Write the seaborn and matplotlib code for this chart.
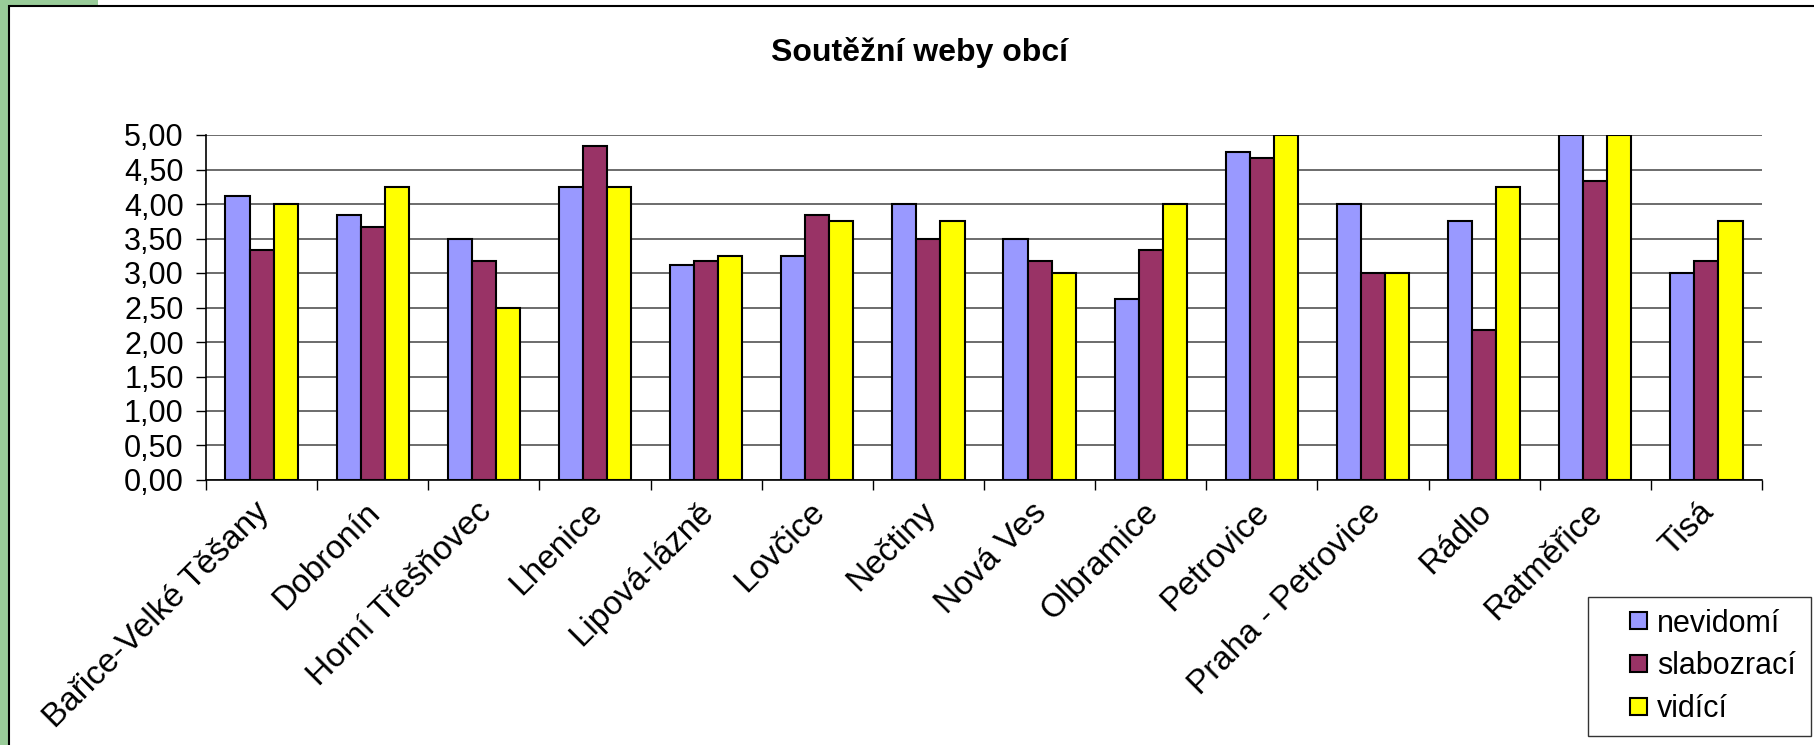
import numpy as np
import pandas as pd
import matplotlib
matplotlib.use("Agg")
import matplotlib.pyplot as plt
import matplotlib.transforms as mtransforms
import seaborn as sns
from matplotlib.patches import Rectangle
from matplotlib.legend_handler import HandlerPatch

# ---- data ----
categories = ["Bařice-Velké Těšany", "Dobronín", "Horní Třešňovec", "Lhenice",
              "Lipová-lázně", "Lovčice", "Nečtiny", "Nová Ves", "Olbramice",
              "Petrovice", "Praha - Petrovice", "Rádlo", "Ratměřice", "Tisá"]
nevidomi = [4.11, 3.84, 3.50, 4.25, 3.12, 3.25, 4.00, 3.50, 2.63, 4.76, 4.00, 3.75, 5.00, 3.00]
slabozraci = [3.33, 3.66, 3.17, 4.84, 3.17, 3.84, 3.50, 3.17, 3.33, 4.67, 3.00, 2.17, 4.33, 3.17]
vidici = [4.00, 4.25, 2.50, 4.25, 3.25, 3.75, 3.75, 3.00, 4.00, 5.00, 3.00, 4.25, 5.00, 3.75]
series_names = ["nevidomí", "slabozrací", "vidící"]
ytick_values = [0.0, 0.5, 1.0, 1.5, 2.0, 2.5, 3.0, 3.5, 4.0, 4.5, 5.0]
ytick_labels = ["0,00", "0,50", "1,00", "1,50", "2,00", "2,50", "3,00", "3,50", "4,00", "4,50", "5,00"]
title = "Soutěžní weby obcí"

colors = ["#9999FF", "#993366", "#FFFF00"]

sns.set_theme(style="white")
plt.rcParams["font.family"] = ["Liberation Sans", "DejaVu Sans"]
plt.rcParams["text.color"] = "black"
plt.rcParams["xtick.color"] = "black"
plt.rcParams["ytick.color"] = "black"
plt.rcParams["axes.labelcolor"] = "black"

df = pd.DataFrame({"obec": categories, series_names[0]: nevidomi,
                   series_names[1]: slabozraci, series_names[2]: vidici})
long = df.melt(id_vars="obec", var_name="skupina", value_name="hodnota")

W, H = 1814, 745
fig = plt.figure(figsize=(W / 100, H / 100), dpi=100)
fig.patch.set_facecolor("white")

# decorative frame and green strips
fig.patches.append(Rectangle((0, 0), 8 / W, 1, transform=fig.transFigure,
                             facecolor="#99CC99", edgecolor="none", zorder=0))
fig.patches.append(Rectangle((0, 1 - 6 / H), 98 / W, 6 / H, transform=fig.transFigure,
                             facecolor="#99CC99", edgecolor="none", zorder=0))
fig.patches.append(Rectangle((8.5 / W, -0.1), 1.2, 1.1 - 6.5 / H, transform=fig.transFigure,
                             facecolor="none", edgecolor="black", linewidth=1.5, zorder=1))

ax = fig.add_axes([206 / W, 1 - 480 / H, (1762 - 206) / W, (480 - 135) / H])
sns.barplot(data=long, x="obec", y="hodnota", hue="skupina", palette=colors,
            width=0.65, edgecolor="black", linewidth=1.5, saturation=1, gap=0,
            ax=ax, zorder=3)

ax.set_xlim(-0.5, len(categories) - 0.5)
ax.set_ylim(0, 5)
ax.set_xlabel("")
ax.set_ylabel("")
ax.patch.set_alpha(0)

FS = 22
ax.set_yticks(ytick_values)
ax.set_yticklabels(ytick_labels, fontsize=FS)
ax.tick_params(axis="y", which="major", left=True, length=7, width=1, color="black", pad=9)

ax.set_xticks(range(len(categories)))
ax.set_xticklabels(categories, fontsize=24, rotation=45, ha="right", rotation_mode="anchor")
ax.tick_params(axis="x", which="major", length=0, pad=12)
shift = mtransforms.ScaledTranslation(-6 / 72, 0, fig.dpi_scale_trans)
for lbl in ax.get_xticklabels():
    lbl.set_transform(lbl.get_transform() + shift)
ax.set_xticks(np.arange(-0.5, len(categories), 1.0), minor=True)
ax.tick_params(axis="x", which="minor", bottom=True, length=7, width=1, color="black")

ax.yaxis.grid(True, color="#606060", linewidth=1.3)
ax.set_axisbelow(True)
for side in ["top", "right"]:
    ax.spines[side].set_visible(False)
for side in ["left", "bottom"]:
    ax.spines[side].set_color("black")
    ax.spines[side].set_linewidth(1.2)


class SquareHandler(HandlerPatch):
    def create_artists(self, legend, orig_handle, xdescent, ydescent, width, height,
                       fontsize, trans):
        s = 12.2
        p = Rectangle((width - xdescent - s, -ydescent + (height - s) / 2), s, s,
                      facecolor=orig_handle.get_facecolor(), edgecolor="black",
                      linewidth=1.5, transform=trans)
        return [p]


handles, labels = ax.get_legend_handles_labels()
ax.legend(handles, labels, loc="upper left",
          bbox_to_anchor=(1588 / W, 1 - 732 / H, (1811 - 1588) / W, (732 - 597) / H),
          bbox_transform=fig.transFigure, mode="expand", frameon=True, fancybox=False,
          edgecolor="black", fontsize=FS, handlelength=1.54, handleheight=0.6,
          handletextpad=0.33, borderpad=0.38, labelspacing=0.42, borderaxespad=0,
          handler_map={h: SquareHandler() for h in handles})
ax.get_legend().get_frame().set_linewidth(1.0)

fig.text(920 / W, 1 - 52 / H, title, ha="center", va="center", fontsize=23, fontweight="bold")

fig.savefig("out.png", dpi=100)
